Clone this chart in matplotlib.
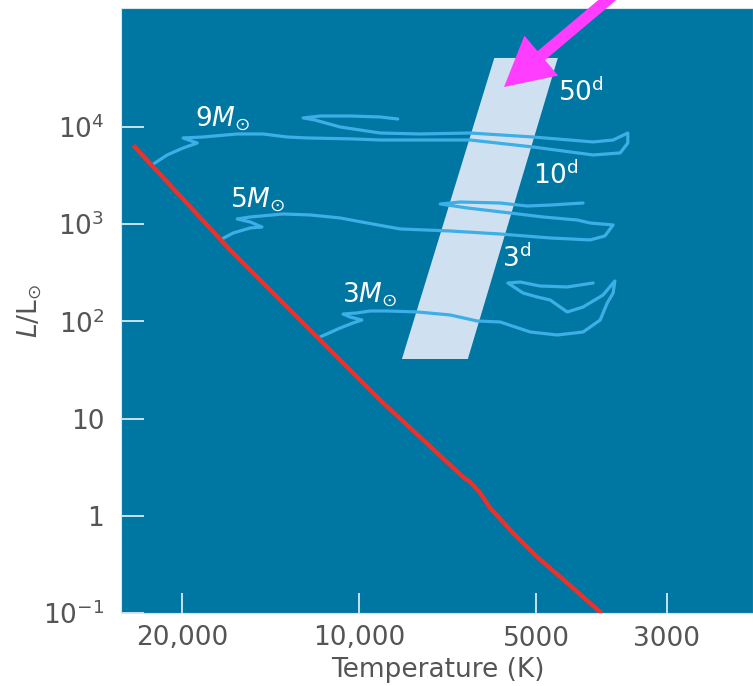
#!/usr/bin/env python3
import matplotlib
import numpy as np
from matplotlib import pyplot as plt

matplotlib.use("Agg")

# all curves stored as log10(Teff / K), log10(L / Lsun)
ms_logt = [4.381, 4.219, 3.964, 3.823, 3.811, 3.794, 3.777, 3.738, 3.697, 3.646, 3.590]
ms_logl = [3.794, 2.735, 1.191, 0.399, 0.348, 0.235, 0.080, -0.177, -0.424, -0.691, -0.990]

m9_logt = [4.352, 4.326, 4.299, 4.275, 4.299, 4.265, 4.207, 4.163, 4.122, 4.088, 4.010,
           3.964, 3.811, 3.704, 3.602, 3.556, 3.543, 3.543, 3.568, 3.602, 3.704, 3.811,
           3.896, 3.964, 4.032, 4.075, 4.095, 4.066, 4.015, 3.964, 3.934]
m9_logl = [3.609, 3.712, 3.784, 3.835, 3.887, 3.897, 3.928, 3.928, 3.897, 3.887, 3.877,
           3.866, 3.866, 3.794, 3.712, 3.733, 3.835, 3.938, 3.866, 3.846, 3.897, 3.938,
           3.928, 3.938, 4.000, 4.072, 4.093, 4.113, 4.113, 4.103, 4.082]

m5_logt = [4.233, 4.214, 4.185, 4.165, 4.185, 4.207, 4.185, 4.129, 4.083, 4.032, 3.986,
           3.930, 3.845, 3.760, 3.675, 3.607, 3.582, 3.568, 3.607, 3.629, 3.687, 3.743,
           3.816, 3.862, 3.828, 3.760, 3.714, 3.675, 3.619]
m5_logl = [2.848, 2.909, 2.961, 2.971, 3.023, 3.054, 3.074, 3.105, 3.095, 3.064, 3.012,
           2.951, 2.930, 2.899, 2.858, 2.838, 2.879, 2.992, 3.012, 3.043, 3.074, 3.115,
           3.167, 3.208, 3.228, 3.218, 3.187, 3.197, 3.218]

m3_logt = [4.066, 4.032, 4.010, 3.995, 4.015, 4.027, 4.003, 3.981, 3.952, 3.901, 3.845,
           3.799, 3.760, 3.709, 3.663, 3.619, 3.590, 3.578, 3.568, 3.565, 3.585, 3.619,
           3.646, 3.675, 3.697, 3.721, 3.747, 3.726, 3.692, 3.646, 3.602]
m3_logl = [1.840, 1.932, 1.984, 2.014, 2.045, 2.076, 2.087, 2.107, 2.107, 2.097, 2.066,
           2.004, 1.994, 1.891, 1.860, 1.891, 2.014, 2.189, 2.292, 2.416, 2.272, 2.148,
           2.097, 2.220, 2.251, 2.292, 2.395, 2.405, 2.364, 2.354, 2.395]

# Cepheid instability strip corners
strip_logt = [3.770, 3.662, 3.815, 3.927]
strip_logl = [4.710, 4.710, 1.613, 1.613]

temp_ticks = [20000, 10000, 5000, 3000]
temp_labels = ["20,000", "10,000", "5000", "3000"]
lum_ticks = [0.1, 1, 10, 100, 1000, 10000]
lum_labels = ["$10^{-1}$", "1", "10", "$10^2$", "$10^3$", "$10^4$"]

bg = "#0076a3"
track_col = "#3eaee6"
label_col = "#555555"

fig = plt.figure(figsize=(7.53, 6.86), dpi=100)
ax = fig.add_axes([121 / 753, 73 / 686, 632 / 753, 605 / 686])
ax.set_facecolor(bg)
ax.set_xscale("log")
ax.set_yscale("log")
ax.set_xlim(25383, 2139)
ax.set_ylim(0.1, 167500)

ax.fill(10 ** np.array(strip_logt), 10 ** np.array(strip_logl), color="#cfe1f1", lw=0, zorder=1)

for lt, ll in [(m9_logt, m9_logl), (m5_logt, m5_logl), (m3_logt, m3_logl)]:
    ax.plot(10 ** np.array(lt), 10 ** np.array(ll), color=track_col, lw=2.3,
            solid_joinstyle="round", solid_capstyle="round", zorder=2)

ax.plot(10 ** np.array(ms_logt), 10 ** np.array(ms_logl), color="#e8322b", lw=3.2,
        solid_joinstyle="round", zorder=3)

ax.set_xticks(temp_ticks)
ax.set_xticklabels(temp_labels)
ax.set_yticks(lum_ticks)
ax.set_yticklabels(lum_labels)
ax.minorticks_off()
ax.tick_params(axis="x", direction="in", length=14.5, width=1.1, color="white",
               labelsize=19, labelcolor=label_col, pad=9)
ax.tick_params(axis="y", direction="in", length=16.5, width=1.1, color="white",
               labelsize=19, labelcolor=label_col, pad=12)
for sp in ax.spines.values():
    sp.set_color("#d6e6ef")
    sp.set_linewidth(0.8)

txt = dict(transform=ax.transAxes, color="white", fontsize=19, ha="left", va="baseline", zorder=5)
ax.text(0.117, 0.805, r"$9M_{\odot}$", **txt)
ax.text(0.172, 0.671, r"$5M_{\odot}$", **txt)
ax.text(0.350, 0.514, r"$3M_{\odot}$", **txt)
ax.text(0.691, 0.846, r"$50^{\rm d}$", **txt)
ax.text(0.652, 0.709, r"$10^{\rm d}$", **txt)
ax.text(0.603, 0.572, r"$3^{\rm d}$", **txt)

fig.text(30 / 753, 1 - 311 / 686, r"$L/\mathrm{L}_{\odot}$", rotation=90,
         ha="center", va="center", fontsize=19, color=label_col)
fig.text(438 / 753, 1 - 670 / 686, "Temperature (K)", ha="center", va="center",
         fontsize=19, color=label_col)

ax.annotate("", xy=(504, 599), xycoords="figure pixels",
            xytext=(650, 722), textcoords="figure pixels",
            arrowprops=dict(arrowstyle="simple,head_length=1.35,head_width=1.45,tail_width=0.32",
                            color="#ff3dff", lw=0, shrinkA=0, shrinkB=0, mutation_scale=26),
            annotation_clip=False, zorder=6)

fig.savefig("out.png", dpi=100)
